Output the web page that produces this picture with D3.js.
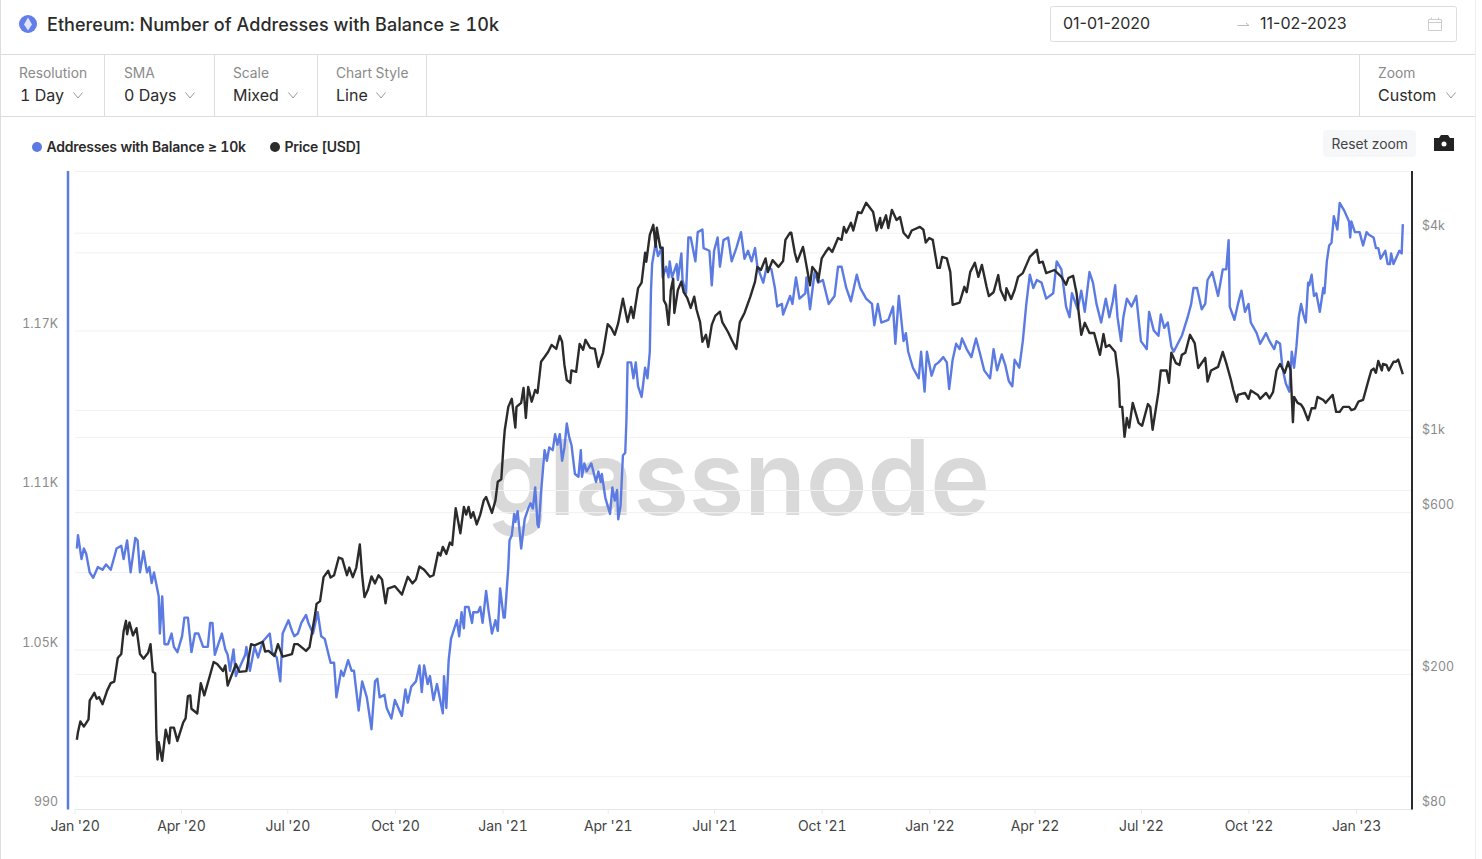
<!DOCTYPE html>
<html>
<head>
<meta charset="utf-8">
<title>Ethereum: Number of Addresses with Balance ≥ 10k</title>
<script src="https://cdn.jsdelivr.net/npm/d3@7"></script>
<style>
  html, body { margin: 0; padding: 0; background: #fff; }
  svg { display: block; font-family: Inter, "Noto Sans", sans-serif; font-feature-settings: "tnum"; }
  text.plain-num { font-feature-settings: normal; }
</style>
</head>
<body>
<svg id="graphArea" width="1482" height="859"></svg>
<script>
// [days since 2020-01-01, addresses]
const addressPoints = [
  [2,1088],[3,1093],[6,1084],[8,1088],[10,1086],[13,1079],[16,1077],[20,1081],[24,1080],[27,1082],[31,1080],[36,1088],[40,1089],[42,1084],[45,1091],[48,1079],[52,1092],[54,1091],[56,1079],[59,1087],[62,1079],[64,1081],[66,1075],[68,1079],[72,1070],[73,1056],[75,1070],[77,1052],[80,1052],[83,1056],[85,1051],[88,1049],[92,1055],[94,1062],[97,1062],[100,1049],[103,1056],[106,1056],[110,1051],[114,1051],[116,1060],[118,1060],[120,1048],[123,1052],[126,1056],[129,1050],[131,1048],[133,1042],[136,1050],[138,1040],[141,1043],[146,1048],[147,1051],[150,1042],[154,1051],[157,1047],[161,1053],[167,1056],[169,1049],[173,1047],[176,1038],[178,1056],[183,1061],[186,1057],[188,1055],[191,1056],[194,1060],[198,1063],[200,1060],[204,1056],[208,1064],[211,1055],[214,1054],[219,1045],[222,1045],[224,1032],[228,1042],[230,1040],[234,1046],[237,1042],[239,1042],[243,1027],[246,1038],[250,1032],[254,1020],[257,1038],[259,1039],[261,1032],[265,1033],[267,1028],[271,1024],[274,1031],[280,1025],[283,1035],[285,1030],[288,1036],[292,1038],[295,1044],[297,1034],[299,1044],[302,1037],[304,1040],[307,1031],[310,1037],[315,1026],[316,1040],[318,1028],[320,1046],[322,1054],
  [327,1061],[329,1055],[331,1064],[333,1058],[334,1066],[337,1066],[340,1060],[341,1064],[345,1064],[347,1066],[349,1060],[352,1072],[354,1065],[357,1056],[360,1061],[362,1057],[364,1073],[367,1062],[368,1062],[371,1081],[372,1091],[374,1093],[376,1101],[377,1098],[379,1102],[382,1088],[385,1099],[388,1103],[390,1105],[392,1103],[394,1111],[396,1097],[397,1096],[399,1109],[402,1125],[404,1121],[406,1126],[409,1125],[411,1131],[413,1127],[415,1131],[417,1121],[419,1126],[421,1135],[423,1130],[425,1127],[428,1116],[431,1115],[433,1125],[434,1115],[436,1120],[438,1117],[442,1120],[446,1113],[448,1117],[450,1113],[451,1116],[454,1107],[458,1101],[460,1111],[462,1106],[464,1110],[465,1099],[467,1104],[469,1123],[471,1124],[472,1136],
  [473,1158],[476,1158],[478,1152],[480,1158],[482,1149],[485,1145],[488,1156],[490,1152],[492,1162],[493,1185],[494,1195],[497,1203],[499,1198],[502,1201],[503,1190],[506,1194],[508,1190],[509,1196],[511,1190],[515,1195],[516,1189],[519,1199],[520,1189],[523,1184],[525,1205],[527,1205],[531,1196],[533,1207],[537,1208],[538,1201],[543,1200],[545,1187],[547,1200],[550,1205],[552,1194],[555,1204],[559,1205],[562,1196],[566,1201],[570,1207],[573,1197],[576,1200],[579,1196],[582,1201],[584,1194],[589,1188],[592,1194],[596,1193],[599,1186],[601,1179],[605,1180],[606,1176],[612,1183],[614,1180],[617,1190],[620,1182],[625,1184],[626,1190],[629,1178],[633,1192],[636,1188],[640,1189],[645,1180],[650,1183],[653,1194],[656,1194],[660,1186],[664,1181],[669,1191],[672,1186],[677,1182],[682,1180],[684,1172],[687,1180],[690,1173],[696,1174],[700,1179],[702,1165],[705,1183],[709,1166],[711,1169],[713,1162],[717,1156],[722,1152],[724,1162],[727,1147],[729,1162],[733,1153],[736,1157],[739,1158],[743,1160],[746,1158],[748,1148],[751,1159],[754,1165],[757,1163],[759,1167],[763,1163],[767,1160],[771,1167],[774,1162],[778,1155],[783,1152],[786,1163],[789,1155],[793,1161],[796,1157],[799,1151],[802,1149],[804,1159],[808,1156],[811,1166],[814,1180],[817,1191],[820,1186],[823,1189],[827,1188],[831,1182],[837,1184],[840,1196],[844,1193],[848,1179],[851,1175],[853,1184],[858,1178],[861,1185],[864,1177],[868,1192],[871,1188],[874,1180],[878,1173],[882,1182],[885,1175],[888,1181],[890,1187],[892,1175],[895,1166],[897,1175],[900,1182],[904,1179],[908,1183],[912,1166],[917,1163],[919,1177],[923,1170],[927,1168],[929,1176],[932,1171],[935,1173],[938,1164],[940,1162],[947,1168],[952,1175],[955,1180],[957,1186],[960,1186],[964,1178],[967,1180],[969,1189],[973,1192],[978,1183],[982,1193],[985,1193],[987,1204],[988,1179],[992,1174],[995,1180],[998,1185],[1001,1177],[1004,1180],[1006,1173],[1011,1169],[1014,1165],[1019,1169],
  [1022,1166],[1026,1163],[1028,1166],[1031,1165],[1033,1156],[1036,1150],[1039,1147],[1041,1162],[1043,1156],[1045,1164],[1047,1175],[1049,1180],[1051,1176],[1053,1173],[1055,1188],[1056,1187],[1058,1191],[1060,1183],[1062,1184],[1065,1177],[1068,1186],[1069,1184],[1071,1196],[1073,1202],[1075,1203],[1077,1213],[1080,1208],[1082,1218],[1086,1215],[1090,1211],[1091,1205],[1092,1211],[1095,1207],[1099,1207],[1102,1202],[1105,1207],[1107,1206],[1111,1205],[1113,1201],[1115,1201],[1117,1197],[1121,1200],[1123,1195],[1125,1195],[1126,1199],[1128,1195],[1133,1200],[1135,1199],[1136,1210]
];

// [days since 2020-01-01, price in USD]
const pricePoints = [
  [2,128],[3,135],[5,145],[8,140],[12,147],[13,167],[17,176],[19,169],[21,171],[24,163],[28,179],[31,188],[34,190],[37,223],[40,229],[42,267],[44,287],[45,262],[47,284],[50,260],[53,273],[56,229],[59,222],[63,231],[65,245],[67,203],[69,201],[70,135],[71,112],[72,126],[75,111],[78,137],[81,125],[82,139],[85,139],[88,127],[93,144],[95,148],[97,172],[99,173],[100,158],[105,153],[108,188],[111,173],[116,199],[119,217],[122,214],[127,204],[129,212],[131,185],[136,205],[138,214],[141,203],[147,204],[151,245],[154,243],[161,249],[163,233],[166,234],[171,226],[174,245],[178,225],[186,229],[188,245],[191,245],[198,234],[201,240],[206,303],[207,322],[210,328],[213,386],[217,403],[219,385],[222,391],[226,441],[229,437],[233,391],[235,412],[238,386],[241,412],[244,482],[246,391],[248,337],[251,355],[254,388],[257,370],[260,391],[263,380],[266,323],[268,357],[274,363],[280,343],[285,387],[289,370],[292,380],[295,415],[299,406],[304,387],[307,391],[311,456],[313,447],[315,474],[318,452],[321,488],[323,480],[326,616],[330,520],[333,622],[335,590],[337,622],[339,578],[341,600],[344,552],[347,590],[350,650],[352,665],[357,597],[360,650],[362,738],[365,750],[367,955],[368,1050],
  [371,1226],[374,1295],[377,1065],[378,1226],[382,1260],[384,1395],[386,1137],[388,1404],[391,1270],[394,1375],[396,1348],[399,1665],[402,1721],[405,1780],[408,1867],[412,1817],[415,1985],[417,1907],[419,1630],[421,1472],[424,1443],[425,1570],[429,1555],[432,1880],[435,1806],[437,1933],[441,1830],[445,1817],[448,1608],[452,1770],[456,2150],[459,2095],[462,2000],[465,2165],[469,2555],[473,2180],[476,2417],[478,2240],[482,2747],[485,2850],[488,3490],[489,3285],[492,3940],[495,4220],[497,3632],[498,4135],[501,3610],[503,3610],[504,2530],[506,2450],[508,2140],[510,2710],[512,2925],[513,2320],[516,2710],[519,2870],[521,2670],[524,2570],[527,2400],[530,2590],[532,2370],[535,2180],[537,1907],[540,2000],[542,1842],[545,2140],[548,2275],[552,2340],[554,2180],[559,2035],[562,1933],[566,1817],[569,2180],[573,2320],[578,2590],[582,2870],[584,3171],[587,3105],[591,3360],[593,3060],[597,3320],[602,3171],[606,3300],[608,3810],[612,4000],[613,4000],[616,3490],[618,3285],[623,3632],[624,3490],[629,2800],[631,3171],[635,3040],[636,2870],[639,3360],[642,3490],[645,3610],[648,3510],[653,3860],[656,3810],[658,4160],[660,4000],[664,4280],[666,4060],[670,4600],[673,4570],[677,4900],[683,4600],[686,4060],[689,4420],[690,4130],[694,4500],[696,4130],[699,4670],[703,4360],[706,4450],[709,4000],[713,3860],[716,4060],[723,4160],[726,4080],[728,3740],[731,3860],[734,3810],[738,3150],[740,3150],[742,3394],[746,3360],[749,3060],[751,2450],[757,2490],[761,2770],[763,2670],[766,3060],[770,3260],[773,2963],[776,3215],[780,2770],[782,2600],[786,2670],[790,3000],[792,2710],[796,2530],[797,2745],[801,2550],[804,2710],[807,2963],[811,3040],[817,3394],[823,3560],[825,3260],[828,3285],[831,3040],[838,3105],[844,2963],[848,2810],[850,2940],[854,2985],[857,2650],[859,2290],[861,2000],[864,2170],[868,2025],[872,2025],[877,1745],[880,2010],[882,1842],[885,1867],[890,1780],[893,1472],[894,1226],[896,1226],[898,1000],[900,1137],[902,1065],[905,1260],[910,1100],[913,1078],[918,1250],[920,1226],[922,1050],[927,1355],[929,1570],[934,1570],[936,1443],[938,1770],[942,1650],[945,1630],[947,1745],[950,1770],[954,2000],[958,1890],[961,1597],[967,1710],[969,1455],[972,1570],[978,1608],[982,1780],[985,1650],[989,1472],[991,1375],[994,1270],[995,1330],[1001,1348],[1004,1295],[1006,1370],[1012,1330],[1014,1295],[1019,1348],
  [1022,1300],[1025,1355],[1028,1570],[1031,1640],[1035,1545],[1038,1665],[1040,1570],[1042,1105],[1043,1312],[1046,1260],[1049,1245],[1051,1215],[1055,1120],[1058,1215],[1061,1215],[1063,1312],[1068,1285],[1070,1260],[1072,1285],[1076,1330],[1079,1185],[1082,1185],[1085,1226],[1090,1226],[1092,1200],[1095,1210],[1098,1270],[1102,1285],[1106,1443],[1109,1570],[1111,1590],[1113,1545],[1115,1675],[1118,1570],[1119,1640],[1122,1630],[1124,1570],[1128,1665],[1130,1665],[1132,1690],[1133,1650],[1136,1530]
];

const startDate = new Date(2020, 0, 1);
const endDate = new Date(2023, 1, 11);
const monthTicks = d3.range(0, 13).map(i => new Date(2020, i * 3, 1));

const leftTicks = [990, 1050, 1110, 1170, 1230];
const leftLabels = ["990", "1.05K", "1.11K", "1.17K", ""];
const rightGrid = [80, 100, 200, 400, 600, 1000, 1200, 3500, 4000];
const rightLabels = { 80: "$80", 200: "$200", 600: "$600", 1000: "$1k", 4000: "$4k" };

const toolbarItems = [
  { label: "Resolution", value: "1 Day", x: 19, chevron: 78, sep: 104 },
  { label: "SMA", value: "0 Days", x: 124, chevron: 190, sep: 214 },
  { label: "Scale", value: "Mixed", x: 233, chevron: 293, sep: 317 },
  { label: "Chart Style", value: "Line", x: 336, chevron: 381, sep: 426 },
  { label: "Zoom", value: "Custom", x: 1378, chevron: 1451, sep: 1359 }
];

const blue = "#5b7be2";
const dark = "#2b2b2b";
const plot = { left: 68, right: 1412, top: 171, bottom: 809 };

const svg = d3.select("#graphArea");

// 外枠とヘッダー
svg.append("line").attr("x1", 0.5).attr("x2", 0.5).attr("y1", 0).attr("y2", 859).attr("stroke", "#ddd");
svg.append("line").attr("x1", 1475.5).attr("x2", 1475.5).attr("y1", 0).attr("y2", 859).attr("stroke", "#eee");
[54.5, 116.5].forEach(y => {
  svg.append("line").attr("x1", 0).attr("x2", 1475).attr("y1", y).attr("y2", y).attr("stroke", "#ddd");
});

// タイトル
svg.append("circle").attr("cx", 28).attr("cy", 24).attr("r", 9).attr("fill", "#627eea");
svg.append("path").attr("d", "M28 17.5 L32 24.5 L28 30.5 L24 24.5 Z").attr("fill", "#fff").attr("fill-opacity", 0.8);
svg.append("text").attr("x", 47).attr("y", 31).attr("font-size", 18).attr("font-weight", 500)
  .attr("fill", dark).attr("letter-spacing", 0.05).text("Ethereum: Number of Addresses with Balance ≥ 10k");

// 日付の範囲
svg.append("rect").attr("x", 1050.5).attr("y", 6.5).attr("width", 406).attr("height", 35).attr("rx", 2)
  .attr("fill", "#fff").attr("stroke", "#ddd");
svg.append("text").attr("class", "plain-num").attr("x", 1063).attr("y", 29).attr("font-size", 16).attr("fill", dark).text("01-01-2020");
svg.append("text").attr("class", "plain-num").attr("x", 1260).attr("y", 29).attr("font-size", 16).attr("fill", dark).text("11-02-2023");
svg.append("path").attr("d", "M1237.5 25.5 H1249 M1246 23 L1249 25.5").attr("fill", "none").attr("stroke", "#bbb");
svg.append("path").attr("d", "M1428.5 19.5 H1441.5 V30.5 H1428.5 Z M1428.5 22.5 H1441.5 M1431.5 17.5 V20 M1438.5 17.5 V20")
  .attr("fill", "none").attr("stroke", "#ccc");

// ツールバー
toolbarItems.forEach(d => {
  svg.append("line").attr("x1", d.sep + 0.5).attr("x2", d.sep + 0.5).attr("y1", 55).attr("y2", 116).attr("stroke", "#ddd");
  svg.append("text").attr("x", d.x).attr("y", 78).attr("font-size", 13.8).attr("fill", "#8a8a8a").text(d.label);
  svg.append("text").attr("x", d.x + (d.x === 19 ? 1 : 0)).attr("y", 101).attr("font-size", 16).attr("fill", dark).text(d.value);
  svg.append("path").attr("d", `M${d.chevron - 4.5} 92.5 L${d.chevron} 98 L${d.chevron + 4.5} 92.5`)
    .attr("fill", "none").attr("stroke", "#999");
});

// 凡例
svg.append("circle").attr("cx", 37).attr("cy", 147).attr("r", 5).attr("fill", blue);
svg.append("text").attr("x", 46.5).attr("y", 152).attr("font-size", 14).attr("font-weight", 600)
  .attr("fill", dark).attr("letter-spacing", -0.22).text("Addresses with Balance ≥ 10k");
svg.append("circle").attr("cx", 275).attr("cy", 147).attr("r", 5).attr("fill", dark);
svg.append("text").attr("x", 284.5).attr("y", 152).attr("font-size", 14).attr("font-weight", 600)
  .attr("fill", dark).attr("letter-spacing", -0.25).text("Price [USD]");

// Reset zoom とカメラ
svg.append("rect").attr("x", 1323).attr("y", 130).attr("width", 93).attr("height", 27).attr("rx", 4).attr("fill", "#f6f7f9");
svg.append("text").attr("x", 1331.5).attr("y", 149).attr("font-size", 13.8).attr("fill", "#444").text("Reset zoom");
svg.append("path").attr("d", "M1434 138 H1439 L1441 135 H1448 L1450 138 H1454 V151 H1434 Z").attr("fill", "#222");
svg.append("circle").attr("cx", 1444).attr("cy", 144).attr("r", 2.5).attr("fill", "#fff");

// スケール
const x = d3.scaleTime().domain([startDate, endDate]).range([74.5, 1404]);
const yLeft = d3.scaleLinear().domain([990, 1230]).range([plot.bottom, plot.top]);
const yRight = d3.scaleLog().domain([80, 6080]).range([plot.bottom, plot.top]);

// ウォーターマーク
svg.append("text").attr("x", 486).attr("y", 515).attr("font-size", 104).attr("font-weight", 600)
  .attr("fill", "#d9d9d9").attr("textLength", 504).attr("lengthAdjust", "spacingAndGlyphs").text("glassnode");

// 罫線 + 左の軸
const leftAxis = svg.append("g").attr("class", "y-axis")
  .attr("transform", `translate(${plot.right},0)`)
  .call(d3.axisLeft(yLeft).tickValues(leftTicks).tickSize(plot.right - 75).tickFormat(""));
leftAxis.selectAll("line").attr("stroke", "#f1f1f1");
leftAxis.select("path").remove();

const rightAxis = svg.append("g").attr("class", "y-axis-right")
  .attr("transform", `translate(${plot.right},0)`)
  .call(d3.axisLeft(yRight).tickValues(rightGrid).tickSize(plot.right - 75).tickFormat(""));
rightAxis.selectAll("line").attr("stroke", "#f1f1f1");
rightAxis.select("path").remove();

// 左右の目盛りラベル
svg.append("g").selectAll("text").data(leftTicks).join("text")
  .attr("x", 58).attr("y", d => yLeft(d) - 3).attr("text-anchor", "end")
  .attr("font-size", 12.4).attr("fill", "#8a8a8a")
  .text((d, i) => leftLabels[i]);
svg.append("g").selectAll("text").data(rightGrid.filter(d => rightLabels[d])).join("text")
  .attr("x", 1422).attr("y", d => yRight(d) - 3)
  .attr("font-size", 12.4).attr("fill", "#8a8a8a")
  .text(d => rightLabels[d]);

// x 軸
const xAxis = svg.append("g").attr("class", "x-axis")
  .attr("transform", `translate(0,${plot.bottom})`)
  .call(d3.axisBottom(x).tickValues(monthTicks).tickSize(5).tickPadding(7).tickFormat(d3.timeFormat("%b '%y")));
xAxis.select("path").attr("d", `M75,0.5 H${plot.right}`).attr("stroke", "#e6e6e6");
xAxis.selectAll("line").attr("stroke", "#eaeaea");
xAxis.selectAll("text").attr("font-size", 14).attr("font-family", "Inter").attr("fill", "#444").attr("letter-spacing", -0.15);

// 縦の軸線
svg.append("line").attr("x1", plot.left).attr("x2", plot.left).attr("y1", plot.top).attr("y2", plot.bottom + 0.5)
  .attr("stroke", blue).attr("stroke-width", 2.5);
svg.append("line").attr("x1", plot.right).attr("x2", plot.right).attr("y1", plot.top).attr("y2", plot.bottom + 0.5)
  .attr("stroke", dark).attr("stroke-width", 2);

// 折れ線
const toDate = day => d3.timeDay.offset(startDate, day);
const addressLine = d3.line().x(d => x(toDate(d[0]))).y(d => yLeft(d[1]));
const priceLine = d3.line().x(d => x(toDate(d[0]))).y(d => yRight(d[1]));

svg.append("path").datum(addressPoints).attr("d", addressLine)
  .attr("fill", "none").attr("stroke", blue).attr("stroke-width", 2.4).attr("stroke-linejoin", "round");
svg.append("path").datum(pricePoints).attr("d", priceLine)
  .attr("fill", "none").attr("stroke", dark).attr("stroke-width", 2.4).attr("stroke-linejoin", "round");
</script>
</body>
</html>
